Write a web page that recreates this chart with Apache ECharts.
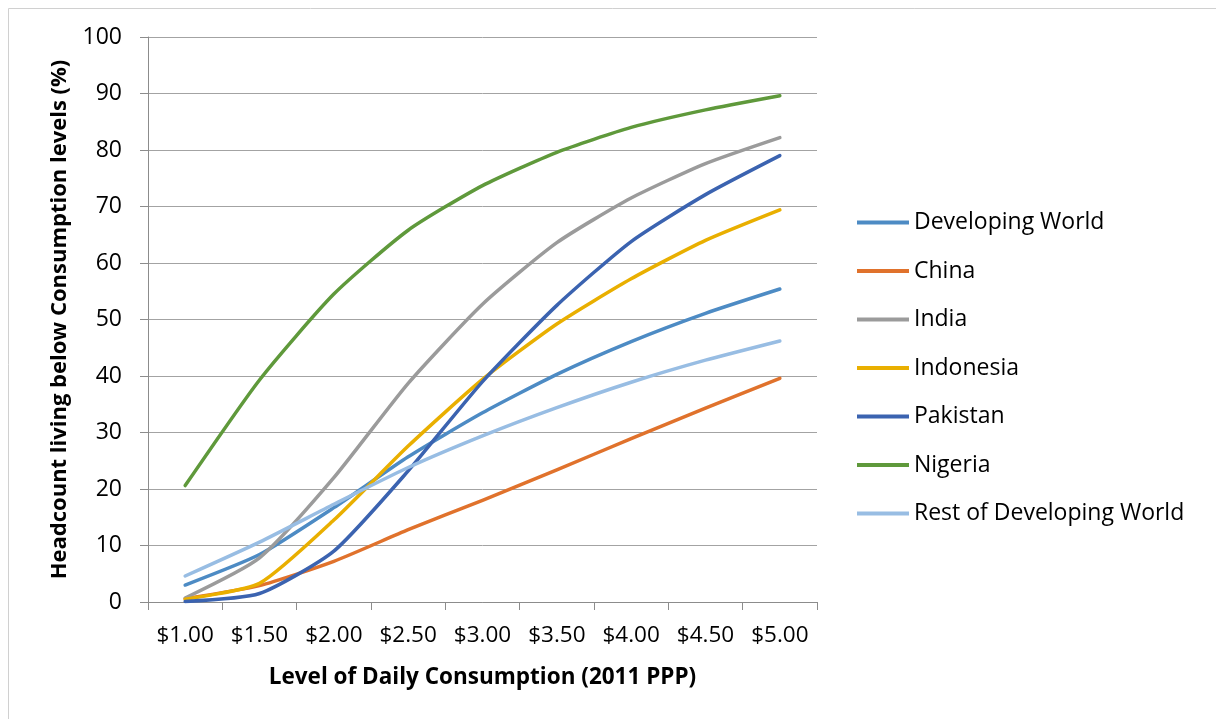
<!DOCTYPE html>
<html>
<head>
<meta charset="utf-8">
<script src="https://cdn.jsdelivr.net/npm/echarts@6/dist/echarts.min.js"></script>
<style>
  html, body { margin: 0; padding: 0; background: #fff; }
  #chart { width: 1216px; height: 719px; }
</style>
</head>
<body>
<div id="chart"></div>
<script>
// Consumption thresholds (2011 PPP, $ per day)
const categories = ['$1.00', '$1.50', '$2.00', '$2.50', '$3.00', '$3.50', '$4.00', '$4.50', '$5.00'];

// Headcount share living below each threshold (%)
const developingWorld = [3.0, 8.4, 16.7, 25.7, 33.5, 40.3, 46.1, 51.1, 55.4];
const china           = [0.6, 2.9, 7.2, 12.8, 18.0, 23.4, 28.9, 34.3, 39.6];
const india           = [0.7, 7.8, 22.0, 38.7, 52.7, 63.6, 71.5, 77.6, 82.2];
const indonesia       = [0.5, 3.3, 14.5, 27.6, 39.4, 49.2, 57.2, 64.0, 69.4];
const pakistan        = [0.1, 1.5, 9.0, 23.2, 39.0, 52.5, 63.8, 72.1, 79.0];
const nigeria         = [20.6, 39.3, 54.5, 65.8, 73.7, 79.6, 84.0, 87.1, 89.6];
const restOfWorld     = [4.6, 10.6, 17.3, 23.8, 29.4, 34.4, 38.9, 42.8, 46.2];

const seriesDefs = [
  { name: 'Developing World', data: developingWorld, color: '#4d8bc4' },
  { name: 'China', data: china, color: '#e0722c' },
  { name: 'India', data: india, color: '#9b9b9b' },
  { name: 'Indonesia', data: indonesia, color: '#e9af00' },
  { name: 'Pakistan', data: pakistan, color: '#3b63b0' },
  { name: 'Nigeria', data: nigeria, color: '#5f993b' },
  { name: 'Rest of Developing World', data: restOfWorld, color: '#98bde3' }
];

const FONT = '"Open Sans", "Noto Sans", sans-serif';
const chart = echarts.init(document.getElementById('chart'), null, { renderer: 'canvas' });

chart.setOption({
  backgroundColor: '#fff',
  animation: false,
  graphic: [{
    type: 'rect',
    shape: { x: 8.5, y: 8.5, width: 1240, height: 740 },
    style: { fill: 'none', stroke: '#d0d0d0', lineWidth: 1 },
    silent: true,
    z: -1
  }],
  grid: { left: 148, right: 399, top: 37, bottom: 117, containLabel: false },
  legend: {
    orient: 'vertical',
    left: 852,
    top: 206,
    itemWidth: 52,
    itemHeight: 14,
    itemGap: 25.5,
    data: seriesDefs.map(s => ({ name: s.name, icon: 'path://M0,5 L52,5 L52,9 L0,9 Z' })),
    textStyle: { fontFamily: FONT, fontSize: 23, color: '#000', lineHeight: 22 }
  },
  xAxis: {
    type: 'category',
    data: categories,
    boundaryGap: true,
    name: 'Level of Daily Consumption (2011 PPP)',
    nameLocation: 'middle',
    nameGap: 64,
    nameTextStyle: { fontFamily: FONT, fontSize: 22.5, fontWeight: 'bold', color: '#000' },
    axisLine: { show: true, lineStyle: { color: '#8c8c8c', width: 1 } },
    axisTick: { show: true, length: 8, lineStyle: { color: '#8c8c8c' } },
    axisLabel: { interval: 0, hideOverlap: false, fontFamily: FONT, fontSize: 22.5, color: '#000', margin: 22 },
    splitLine: { show: false }
  },
  yAxis: {
    type: 'value',
    min: 0,
    max: 100,
    interval: 10,
    name: 'Headcount living below Consumption levels (%)',
    nameLocation: 'middle',
    nameGap: 77,
    nameTextStyle: { fontFamily: FONT, fontSize: 22, fontWeight: 'bold', color: '#000' },
    axisLine: { show: true, lineStyle: { color: '#8c8c8c', width: 1 } },
    axisTick: { show: true, length: 8, lineStyle: { color: '#8c8c8c' } },
    axisLabel: { fontFamily: FONT, fontSize: 23, color: '#000', margin: 26 },
    splitLine: { show: true, lineStyle: { color: '#a3a3a3', width: 1 } }
  },
  series: seriesDefs.map(s => ({
    name: s.name,
    type: 'line',
    data: s.data,
    smooth: 0.2,
    symbol: 'none',
    color: s.color,
    lineStyle: { color: s.color, width: 3.5, cap: 'round', join: 'round' }
  }))
});
</script>
</body>
</html>
